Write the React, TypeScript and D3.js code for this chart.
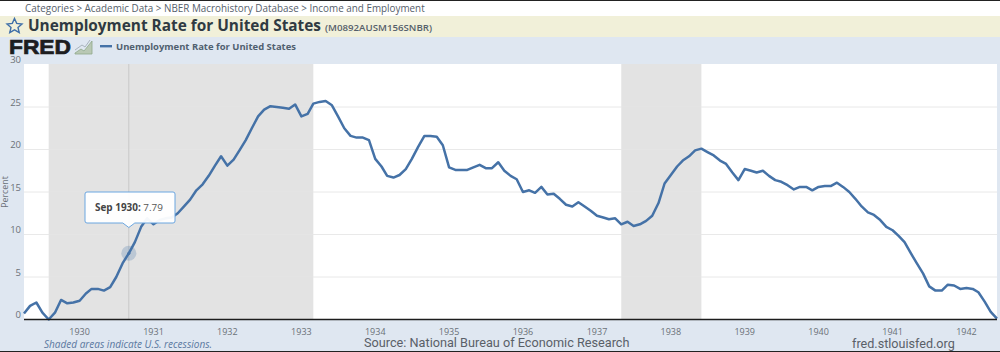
import React from "react";
import * as d3 from "d3";

const startYear = 1929;
const startMonth = 3;
const unemployment = [
  0.7, 1.6, 2.0, 0.8, 0, 0.8, 2.3, 1.9, 2.0,
  2.2, 3.06, 3.6, 3.6, 3.4, 3.8, 5.0, 6.6, 7.79, 9.1, 10.9, 11.9,
  11.2, 11.7, 11.9, 12.0, 12.5, 13.3, 14.1, 15.2, 15.9, 16.9, 18.1, 19.2,
  18.1, 18.8, 19.9, 21.1, 22.5, 23.9, 24.7, 25.1, 25.0, 24.9, 24.8, 25.3,
  23.9, 24.2, 25.4, 25.6, 25.7, 25.2, 23.9, 22.5, 21.6, 21.4, 21.4, 21.1,
  18.9, 18.0, 16.9, 16.7, 17.0, 17.7, 18.9, 20.3, 21.6, 21.6, 21.5, 20.5,
  17.9, 17.6, 17.6, 17.6, 17.9, 18.2, 17.8, 17.8, 18.5, 17.5, 16.9, 16.5,
  15.0, 15.2, 14.9, 15.6, 14.7, 14.8, 14.2, 13.5, 13.3, 13.8, 13.3, 12.8,
  12.2, 12.0, 11.8, 11.9, 11.2, 11.5, 11.0, 11.2, 11.6, 12.2, 13.7, 16.0,
  17.0, 18.0, 18.7, 19.2, 19.9, 20.1, 19.7, 19.3, 18.7, 18.3, 17.3, 16.4,
  17.7, 17.5, 17.3, 17.5, 16.9, 16.4, 16.2, 15.8, 15.3, 15.6, 15.6, 15.2,
  15.6, 15.7, 15.7, 16.1, 15.6, 15.0, 14.2, 13.3, 12.6, 12.3, 11.7, 10.9,
  10.5, 9.8, 9.1, 7.8, 6.6, 5.4, 3.9, 3.4, 3.4, 4.1, 4.0, 3.6,
  3.7, 3.6, 3.2, 2.1, 0.9, 0.1,
];
const dates = unemployment.map((_, i) => new Date(startYear, startMonth + i, 1));
const recessions: [Date, Date][] = [
  [new Date(1929, 7, 1), new Date(1933, 2, 1)],
  [new Date(1937, 4, 1), new Date(1938, 5, 1)],
];
const yTicks = [0, 5, 10, 15, 20, 25, 30];
const xYears = d3.range(1930, 1943);
const font = "'Open Sans', sans-serif";

export default function App() {
  const x = d3.scaleTime().domain([dates[0], dates[dates.length - 1]]).range([24, 997]);
  const y = d3.scaleLinear().domain([0, 30]).range([319.5, 64.5]);
  const line = d3.line<number>().x((_, i) => x(dates[i])).y((d) => y(d));
  const hi = new Date(1930, 8, 1);
  const hx = x(hi);
  const hy = y(7.79);
  return (
    <svg width={1000} height={352} style={{ position: "absolute", left: 0, top: 0, display: "block" }} fontFamily={font}>
      <rect width={1000} height={352} fill="#dfe7f1" />
      <rect width={1000} height={17} fill="#ffffff" />
      <rect y={16} width={1000} height={21} fill="#f1f0d9" />
      <rect width={1000} height={1} fill="#222" />
      <rect y={351} width={1000} height={1} fill="#222" />
      <text transform="translate(25,12) scale(0.941,1)" fontSize={10.5} fill="#56606b">Categories &gt; Academic Data &gt; NBER Macrohistory Database &gt; Income and Employment</text>
      <path d="M14.5 18.5 L16.7 23.4 L22 24 L18 27.5 L19.2 32.5 L14.5 29.9 L9.8 32.5 L11 27.5 L7 24 L12.3 23.4 Z" fill="none" stroke="#3f6fa8" strokeWidth={1.4} />
      <text x={28} y={31} fontSize={15.5} fontWeight={700} fill="#2f3a42" textLength={293} lengthAdjust="spacingAndGlyphs">Unemployment Rate for United States</text>
      <text x={325} y={30.5} fontSize={8.6} fontWeight={600} fill="#55606a" textLength={107} lengthAdjust="spacingAndGlyphs">(M0892AUSM156SNBR)</text>
      <text x={9} y={53.5} fontSize={20.5} fontWeight={700} fontFamily="'Liberation Sans', sans-serif" fill="#1d1d1f" stroke="#1d1d1f" strokeWidth={0.7} textLength={62} lengthAdjust="spacingAndGlyphs">FRED</text>
      <path d="M75 53 L81 49 L84 51 L92 41 L92 54 L75 54 Z" fill="#b9c8b4" stroke="#8fa88a" strokeWidth={0.8} />
      <path d="M75 50 L82 45 L85 47 L90 40" fill="none" stroke="#a9b4bd" strokeWidth={1} />
      <rect x={100} y={45} width={12} height={2.4} fill="#4572a7" />
      <text x={116} y={49.5} fontSize={9.5} fontWeight={700} fill="#50606f" textLength={180} lengthAdjust="spacingAndGlyphs">Unemployment Rate for United States</text>

      <rect x={24} y={64} width={973} height={255.5} fill="#ffffff" />
      {recessions.map(([a, b], i) => (
        <rect key={i} x={x(a)} y={64} width={x(b) - x(a)} height={255.5} fill="#e3e3e3" />
      ))}
      {yTicks.slice(1, 6).map((t) => (
        <line key={t} x1={24} x2={997} y1={y(t)} y2={y(t)} stroke="#e6e6e6" strokeWidth={1} opacity={0.85} />
      ))}
      <line x1={hx} x2={hx} y1={64} y2={319.5} stroke="#c8c8c8" strokeWidth={1} />
      <path d={line(unemployment) ?? ""} fill="none" stroke="#4572a7" strokeWidth={2.5} strokeLinejoin="round" />
      <line x1={24} x2={997} y1={319.5} y2={319.5} stroke="#1c1c1c" strokeWidth={1.5} />
      <circle cx={hx} cy={hy} r={7.5} fill="#4572a7" opacity={0.25} />
      <circle cx={hx} cy={hy} r={1.6} fill="#4572a7" />

      <path
        d={`M87 192 H173 a2 2 0 0 1 2 2 V221 a2 2 0 0 1 -2 2 H${hx + 6} L${hx} 227.5 L${hx - 6} 223 H87 a2 2 0 0 1 -2 -2 V194 a2 2 0 0 1 2 -2 Z`}
        fill="#ffffff"
        fillOpacity={0.95}
        stroke="#6ba6e0"
        strokeWidth={1}
      />
      <text x={95} y={211} fontSize={9.8} fill="#555" textLength={68} lengthAdjust="spacingAndGlyphs">
        <tspan fontWeight={700} fill="#444">Sep 1930:</tspan> 7.79
      </text>

      {yTicks.map((t) => (
        <text key={t} x={21} y={y(t) - 1.5} textAnchor="end" fontSize={9.5} fill="#6b7178">{t}</text>
      ))}
      <text transform="translate(8,192) rotate(-90)" textAnchor="middle" fontSize={8.8} fill="#6b7178">Percent</text>
      {xYears.map((yr) => (
        <text key={yr} x={x(new Date(yr, 0, 1))} y={335} textAnchor="middle" fontSize={9} fill="#6b7178">{yr}</text>
      ))}
      <text x={44} y={347.5} fontSize={10} fontStyle="italic" fill="#5a78a0" textLength={168} lengthAdjust="spacingAndGlyphs">Shaded areas indicate U.S. recessions.</text>
      <text x={364} y={347} fontSize={12.7} fontFamily="Roboto, sans-serif" fill="#5a6068">Source: National Bureau of Economic Research</text>
      <text x={852} y={348} fontSize={12.6} fontFamily="Roboto, sans-serif" fill="#5a6068">fred.stlouisfed.org</text>
    </svg>
  );
}
